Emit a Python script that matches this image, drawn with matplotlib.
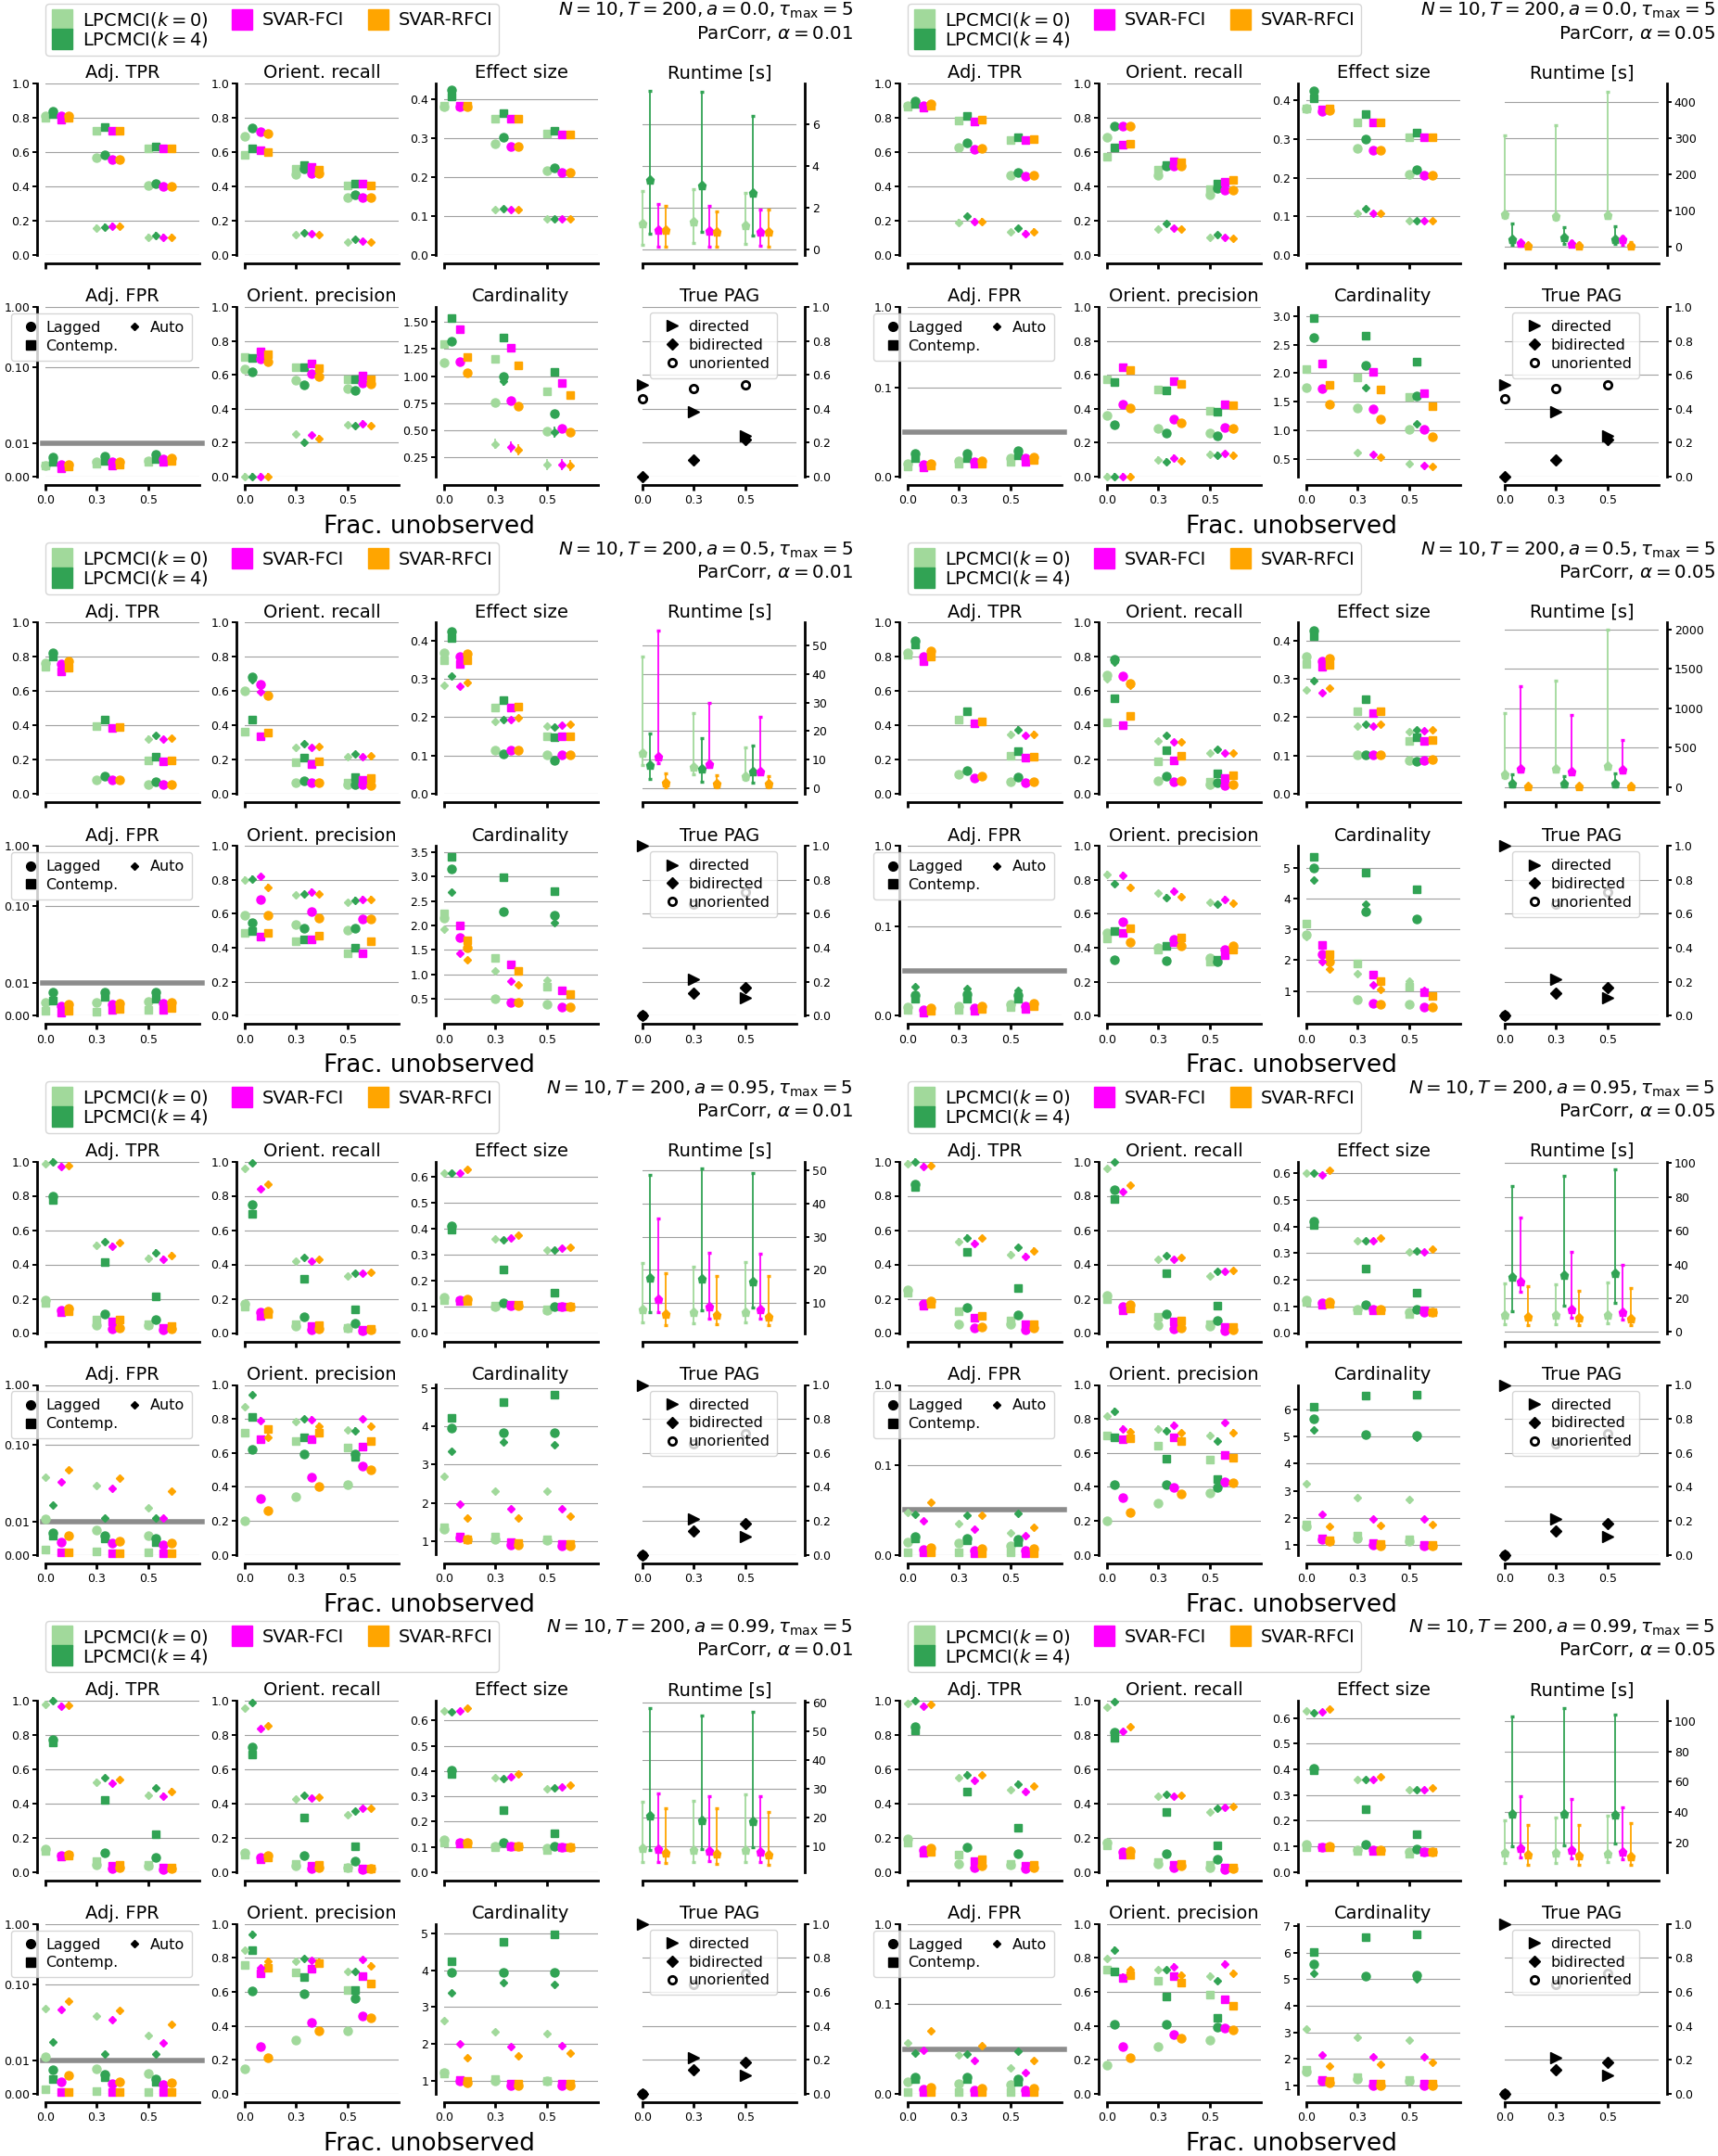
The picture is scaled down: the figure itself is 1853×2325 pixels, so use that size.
import numpy as np
import matplotlib.pyplot as plt
from matplotlib.lines import Line2D

nan = np.nan

frac_labels = ['0.0', '0.3', '0.5']
a_values = ['0.0', '0.5', '0.95', '0.99']
alpha_values = ['0.01', '0.05']
methods = [r'LPCMCI($k=0$)', r'LPCMCI($k=4$)', 'SVAR-FCI', 'SVAR-RFCI']
colors = ['#a1d99b', '#31a354', '#ff00ff', '#ffa500']

# panel order: (a=0.0, alpha=0.01), (a=0.0, alpha=0.05), (a=0.5, 0.01), (a=0.5, 0.05),
#              (a=0.95, 0.01), (a=0.95, 0.05), (a=0.99, 0.01), (a=0.99, 0.05)
# inside a panel: [LPCMCI k=0, LPCMCI k=4, SVAR-FCI, SVAR-RFCI], each over frac 0.0, 0.3, 0.5

# Adj. TPR
tpr_lag = [
    [[0.81, 0.568, 0.405], [0.84, 0.586, 0.414], [0.81, 0.559, 0.40], [0.81, 0.559, 0.40]],
    [[0.87, 0.628, 0.467], [0.895, 0.652, 0.481], [0.87, 0.618, 0.457], [0.88, 0.624, 0.463]],
    [[0.764, 0.084, 0.058], [0.824, 0.104, 0.07], [0.758, 0.084, 0.054], [0.774, 0.084, 0.054]],
    [[0.824, 0.114, 0.074], [0.894, 0.134, 0.098], [0.804, 0.094, 0.064], [0.834, 0.104, 0.07]],
    [[0.19, 0.044, 0.044], [0.797, 0.113, 0.078], [0.133, 0.022, 0.018], [0.145, 0.028, 0.022]],
    [[0.25, 0.054, 0.054], [0.869, 0.147, 0.106], [0.171, 0.03, 0.02], [0.187, 0.034, 0.03]],
    [[0.134, 0.044, 0.034], [0.774, 0.114, 0.084], [0.098, 0.02, 0.014], [0.104, 0.028, 0.022]],
    [[0.194, 0.048, 0.044], [0.848, 0.144, 0.108], [0.128, 0.024, 0.02], [0.138, 0.034, 0.028]],
]
tpr_con = [
    [[0.80, 0.726, 0.622], [0.82, 0.744, 0.63], [0.79, 0.726, 0.622], [0.80, 0.726, 0.622]],
    [[0.865, 0.785, 0.672], [0.88, 0.81, 0.684], [0.86, 0.779, 0.672], [0.87, 0.789, 0.676]],
    [[0.744, 0.394, 0.194], [0.804, 0.434, 0.22], [0.714, 0.384, 0.19], [0.734, 0.39, 0.194]],
    [[0.814, 0.434, 0.224], [0.874, 0.484, 0.25], [0.774, 0.41, 0.21], [0.804, 0.424, 0.22]],
    [[0.175, 0.078, 0.052], [0.777, 0.414, 0.215], [0.119, 0.068, 0.032], [0.129, 0.078, 0.038]],
    [[0.235, 0.127, 0.074], [0.849, 0.472, 0.261], [0.161, 0.09, 0.05], [0.171, 0.10, 0.05]],
    [[0.124, 0.064, 0.04], [0.754, 0.418, 0.218], [0.09, 0.034, 0.024], [0.094, 0.044, 0.028]],
    [[0.174, 0.10, 0.048], [0.828, 0.468, 0.26], [0.114, 0.064, 0.034], [0.12, 0.074, 0.04]],
]
tpr_auto = [
    [[nan, 0.157, 0.103], [nan, 0.162, 0.114], [nan, 0.168, 0.103], [nan, 0.168, 0.103]],
    [[nan, 0.19, 0.133], [nan, 0.225, 0.155], [nan, 0.195, 0.125], [nan, 0.195, 0.135]],
    [[nan, nan, 0.32], [nan, nan, 0.34], [nan, nan, 0.318], [nan, nan, 0.324]],
    [[nan, nan, 0.348], [nan, nan, 0.374], [nan, nan, 0.34], [nan, nan, 0.35]],
    [[0.988, 0.511, 0.435], [1.0, 0.531, 0.467], [0.97, 0.507, 0.431], [0.978, 0.525, 0.451]],
    [[0.988, 0.532, 0.456], [1.0, 0.556, 0.498], [0.97, 0.522, 0.448], [0.978, 0.552, 0.478]],
    [[0.978, 0.524, 0.448], [0.998, 0.548, 0.488], [0.968, 0.518, 0.444], [0.974, 0.538, 0.468]],
    [[0.98, 0.548, 0.478], [0.998, 0.568, 0.514], [0.968, 0.534, 0.468], [0.976, 0.564, 0.50]],
]

# Orient. recall
rec_lag = [
    [[0.69, 0.468, 0.337], [0.742, 0.505, 0.351], [0.72, 0.477, 0.337], [0.708, 0.477, 0.337]],
    [[0.684, 0.467, 0.35], [0.752, 0.517, 0.39], [0.752, 0.517, 0.376], [0.752, 0.517, 0.38]],
    [[0.60, 0.064, 0.054], [0.684, 0.078, 0.058], [0.638, 0.064, 0.054], [0.574, 0.064, 0.05]],
    [[0.694, 0.078, 0.058], [0.784, 0.104, 0.068], [0.69, 0.074, 0.05], [0.644, 0.078, 0.054]],
    [[0.169, 0.038, 0.032], [0.746, 0.093, 0.058], [0.119, 0.018, 0.012], [0.129, 0.022, 0.018]],
    [[0.22, 0.044, 0.04], [0.833, 0.11, 0.074], [0.155, 0.024, 0.014], [0.167, 0.03, 0.02]],
    [[0.114, 0.034, 0.024], [0.728, 0.094, 0.064], [0.084, 0.02, 0.014], [0.094, 0.028, 0.018]],
    [[0.174, 0.048, 0.028], [0.814, 0.108, 0.074], [0.118, 0.024, 0.014], [0.124, 0.034, 0.02]],
]
rec_con = [
    [[0.586, 0.505, 0.405], [0.622, 0.522, 0.414], [0.61, 0.514, 0.414], [0.60, 0.50, 0.405]],
    [[0.571, 0.497, 0.386], [0.628, 0.527, 0.416], [0.644, 0.547, 0.427], [0.648, 0.541, 0.437]],
    [[0.364, 0.184, 0.064], [0.434, 0.214, 0.098], [0.334, 0.174, 0.084], [0.358, 0.19, 0.094]],
    [[0.418, 0.19, 0.074], [0.558, 0.254, 0.118], [0.404, 0.198, 0.094], [0.454, 0.224, 0.11]],
    [[0.153, 0.052, 0.028], [0.696, 0.314, 0.139], [0.099, 0.038, 0.018], [0.109, 0.044, 0.022]],
    [[0.20, 0.094, 0.054], [0.783, 0.347, 0.161], [0.13, 0.07, 0.034], [0.141, 0.074, 0.034]],
    [[0.104, 0.048, 0.028], [0.684, 0.318, 0.148], [0.074, 0.034, 0.02], [0.084, 0.04, 0.02]],
    [[0.154, 0.06, 0.04], [0.784, 0.348, 0.158], [0.10, 0.04, 0.024], [0.104, 0.048, 0.028]],
]
rec_auto = [
    [[nan, 0.12, 0.077], [nan, 0.13, 0.09], [nan, 0.126, 0.081], [nan, 0.117, 0.077]],
    [[nan, 0.149, 0.105], [nan, 0.185, 0.119], [nan, 0.155, 0.105], [nan, 0.149, 0.10]],
    [[0.60, 0.274, 0.218], [0.665, 0.294, 0.234], [0.595, 0.274, 0.22], [0.575, 0.278, 0.224]],
    [[0.674, 0.31, 0.238], [0.77, 0.34, 0.26], [0.68, 0.304, 0.238], [0.635, 0.304, 0.24]],
    [[0.958, 0.421, 0.33], [0.994, 0.441, 0.346], [0.843, 0.421, 0.346], [0.867, 0.431, 0.354]],
    [[0.96, 0.432, 0.335], [0.998, 0.452, 0.361], [0.827, 0.428, 0.361], [0.863, 0.438, 0.365]],
    [[0.954, 0.428, 0.334], [0.99, 0.448, 0.354], [0.834, 0.43, 0.374], [0.854, 0.438, 0.37]],
    [[0.96, 0.44, 0.348], [0.994, 0.454, 0.374], [0.818, 0.444, 0.378], [0.848, 0.448, 0.384]],
]

# Effect size
eff_lag = [
    [[0.38, 0.285, 0.216], [0.423, 0.302, 0.224], [0.38, 0.278, 0.212], [0.38, 0.278, 0.212]],
    [[0.38, 0.277, 0.208], [0.424, 0.301, 0.22], [0.371, 0.272, 0.206], [0.375, 0.272, 0.206]],
    [[0.367, 0.113, 0.102], [0.423, 0.104, 0.088], [0.358, 0.115, 0.102], [0.365, 0.115, 0.102]],
    [[0.358, 0.102, 0.088], [0.425, 0.102, 0.085], [0.347, 0.102, 0.088], [0.354, 0.102, 0.089]],
    [[0.137, 0.10, 0.087], [0.411, 0.114, 0.10], [0.126, 0.104, 0.10], [0.129, 0.104, 0.10]],
    [[0.125, 0.09, 0.08], [0.42, 0.107, 0.09], [0.112, 0.09, 0.08], [0.116, 0.09, 0.08]],
    [[0.126, 0.103, 0.094], [0.404, 0.117, 0.103], [0.117, 0.103, 0.099], [0.117, 0.103, 0.099]],
    [[0.108, 0.084, 0.079], [0.405, 0.108, 0.091], [0.097, 0.084, 0.079], [0.10, 0.084, 0.079]],
]
eff_con = [
    [[0.383, 0.35, 0.312], [0.406, 0.364, 0.318], [0.382, 0.349, 0.31], [0.382, 0.349, 0.31]],
    [[0.38, 0.344, 0.304], [0.406, 0.364, 0.316], [0.377, 0.342, 0.304], [0.38, 0.344, 0.304]],
    [[0.349, 0.226, 0.151], [0.407, 0.245, 0.149], [0.34, 0.226, 0.151], [0.349, 0.227, 0.151]],
    [[0.34, 0.216, 0.138], [0.412, 0.247, 0.147], [0.332, 0.211, 0.138], [0.336, 0.216, 0.14]],
    [[0.126, 0.104, 0.091], [0.396, 0.245, 0.154], [0.121, 0.108, 0.10], [0.124, 0.108, 0.10]],
    [[0.116, 0.084, 0.073], [0.405, 0.244, 0.15], [0.107, 0.084, 0.084], [0.109, 0.084, 0.08]],
    [[0.117, 0.099, 0.089], [0.388, 0.245, 0.153], [0.114, 0.103, 0.099], [0.114, 0.103, 0.099]],
    [[0.097, 0.081, 0.071], [0.395, 0.244, 0.148], [0.095, 0.081, 0.079], [0.097, 0.081, 0.079]],
]
eff_auto = [
    [[nan, 0.116, 0.092], [nan, 0.118, 0.093], [nan, 0.116, 0.092], [nan, 0.116, 0.092]],
    [[nan, 0.108, 0.089], [nan, 0.119, 0.09], [nan, 0.108, 0.089], [nan, 0.108, 0.089]],
    [[0.283, 0.19, 0.176], [0.307, 0.193, 0.174], [0.281, 0.193, 0.18], [0.29, 0.198, 0.182]],
    [[0.271, 0.177, 0.162], [0.296, 0.183, 0.167], [0.263, 0.177, 0.165], [0.276, 0.182, 0.168]],
    [[0.611, 0.36, 0.318], [0.613, 0.357, 0.318], [0.614, 0.364, 0.324], [0.626, 0.374, 0.33]],
    [[0.60, 0.347, 0.306], [0.602, 0.347, 0.308], [0.595, 0.347, 0.306], [0.613, 0.357, 0.315]],
    [[0.638, 0.374, 0.331], [0.634, 0.371, 0.333], [0.638, 0.378, 0.336], [0.648, 0.388, 0.343]],
    [[0.628, 0.361, 0.319], [0.621, 0.361, 0.321], [0.624, 0.361, 0.319], [0.635, 0.372, 0.328]],
]

# Runtime [s]: mean, min, max
rt_mean = [
    [[1.25, 1.32, 1.17], [3.33, 3.08, 2.73], [0.92, 0.88, 0.82], [0.92, 0.82, 0.82]],
    [[88, 83, 87], [19, 26, 21], [9.4, 7.5, 19], [3, 3, 3]],
    [[12.4, 7.6, 4.2], [8.2, 6.7, 6.0], [10.9, 8.4, 6.0], [1.9, 1.7, 1.7]],
    [[161, 239, 274], [43, 43, 43], [230, 196, 222], [13, 13, 13]],
    [[7.9, 7.3, 7.3], [17.5, 17.3, 16.4], [11.2, 8.9, 7.9], [6.6, 6.4, 5.8]],
    [[10.2, 10.0, 10.2], [32.9, 33.9, 35.0], [29.9, 13.6, 12.0], [8.9, 8.5, 8.1]],
    [[9.5, 8.8, 8.8], [20.7, 19.3, 18.7], [9.2, 8.6, 8.2], [8.0, 7.6, 7.1]],
    [[13.2, 12.8, 12.6], [38.5, 38.7, 38.0], [16.2, 14.8, 13.7], [11.7, 11.0, 10.5]],
]
rt_min = [
    [[0.22, 0.33, 0.25], [0.77, 0.85, 0.65], [0.15, 0.15, 0.18], [0.15, 0.15, 0.13]],
    [[80, 75, 78], [5, 7.5, 5.7], [2, 2, 5], [0.5, 0.5, 0.5]],
    [[8, 5, 3], [3.4, 2.4, 1.9], [8.8, 7.6, 5.2], [0.4, 0.4, 0.4]],
    [[120, 200, 230], [13, 13, 13], [200, 170, 190], [2, 2, 2]],
    [[4.0, 3.7, 4.2], [7.3, 7.8, 8.6], [7.3, 5.2, 5.2], [3.2, 3.5, 3.2]],
    [[4.5, 4.5, 4.9], [12.2, 15.7, 17.1], [23.8, 8.5, 7.5], [4.1, 3.9, 4.1]],
    [[4.8, 4.7, 4.8], [8.8, 9.2, 9.8], [4.8, 5.0, 4.8], [4.2, 4.1, 3.8]],
    [[6.5, 6.5, 6.9], [17.1, 18.2, 19.5], [9.9, 9.2, 8.7], [5.4, 5.4, 5.4]],
]
rt_max = [
    [[2.82, 2.9, 2.7], [7.6, 7.58, 6.42], [2.18, 2.11, 1.89], [2.11, 1.84, 1.89]],
    [[307, 335, 429], [64, 52, 57], [15, 14, 28], [8, 9, 11]],
    [[46, 26.2, 14.4], [19, 17.5, 14.8], [55.3, 30, 25], [5.2, 4.6, 4.2]],
    [[943, 1348, 1991], [161, 139, 174], [1274, 913, 596], [39, 39, 39]],
    [[22, 20.8, 22.2], [48.7, 50.7, 49.4], [35.4, 25.1, 24.8], [19, 18, 18.2]],
    [[28.9, 28.5, 29.3], [86.2, 92.3, 96.3], [67.9, 47.6, 40], [27.2, 24.4, 25.8]],
    [[25.6, 25.8, 28.2], [58.2, 55.5, 56.7], [28.5, 27.6, 27.6], [23.2, 23.2, 22.2]],
    [[34.6, 36.4, 37.3], [102.9, 108.5, 104], [50.4, 48.6, 43], [31.3, 31.3, 32.4]],
]

# Adj. FPR
fpr_lag = [
    [[0.0035, 0.0044, 0.0049], [0.0058, 0.0063, 0.0067], [0.0037, 0.0044, 0.0053], [0.0037, 0.0044, 0.0056]],
    [[0.015, 0.018, 0.021], [0.026, 0.026, 0.0286], [0.0134, 0.017, 0.021], [0.015, 0.018, 0.022]],
    [[0.004, 0.004, 0.0043], [0.007, 0.007, 0.007], [0.003, 0.0035, 0.0037], [0.0035, 0.0037, 0.004]],
    [[0.0095, 0.011, 0.013], [0.023, 0.024, 0.023], [0.0065, 0.0087, 0.011], [0.0087, 0.011, 0.014]],
    [[0.0132, 0.0073, 0.0058], [0.0067, 0.0057, 0.005], [0.0039, 0.0034, 0.0029], [0.0058, 0.0041, 0.0034]],
    [[0.0144, 0.0125, 0.0095], [0.020, 0.018, 0.017], [0.0057, 0.005, 0.005], [0.0076, 0.0068, 0.0068]],
    [[0.014, 0.0075, 0.0062], [0.0072, 0.0058, 0.0044], [0.0037, 0.0031, 0.0027], [0.0055, 0.0037, 0.0032]],
    [[0.0137, 0.0107, 0.0099], [0.0183, 0.0183, 0.0164], [0.005, 0.0038, 0.0038], [0.0069, 0.0061, 0.0061]],
]
fpr_con = [
    [[0.0033, 0.0039, 0.0044], [0.0044, 0.0049, 0.0053], [0.0025, 0.0035, 0.0044], [0.003, 0.0037, 0.0047]],
    [[0.0115, 0.015, 0.017], [0.021, 0.021, 0.024], [0.0107, 0.0145, 0.017], [0.012, 0.015, 0.019]],
    [[0.0015, 0.0013, 0.0017], [0.0045, 0.0056, 0.005], [0.001, 0.0017, 0.0017], [0.0015, 0.002, 0.0023]],
    [[0.0065, 0.0065, 0.0095], [0.019, 0.019, 0.019], [0.0038, 0.0057, 0.0076], [0.0057, 0.0076, 0.0103]],
    [[0.0015, 0.001, 0.0008], [0.0057, 0.005, 0.0039], [0.0008, 0.0005, 0.0005], [0.0008, 0.0005, 0.0005]],
    [[0.003, 0.003, 0.003], [0.018, 0.016, 0.0144], [0.003, 0.002, 0.002], [0.003, 0.002, 0.002]],
    [[0.0014, 0.0009, 0.0004], [0.0044, 0.0051, 0.0037], [0.0006, 0.0004, 0.0004], [0.0006, 0.0004, 0.0004]],
    [[0.002, 0.002, 0.0015], [0.0164, 0.0164, 0.0137], [0.002, 0.0015, 0.0015], [0.002, 0.0015, 0.0015]],
]
fpr_auto = [
    [[nan, nan, nan], [nan, nan, nan], [nan, nan, nan], [nan, nan, nan]],
    [[nan, nan, nan], [nan, nan, nan], [nan, nan, nan], [nan, nan, nan]],
    [[nan, nan, nan], [nan, nan, nan], [nan, nan, nan], [nan, nan, nan]],
    [[nan, nan, nan], [0.032, 0.03, 0.0285], [nan, nan, nan], [nan, nan, nan]],
    [[0.0626, 0.0526, 0.0265], [0.029, 0.0144, 0.0144], [0.0566, 0.0486, 0.0144], [0.0715, 0.0614, 0.0454]],
    [[0.0475, 0.0346, 0.0247], [0.045, 0.044, 0.046], [0.038, 0.0285, 0.021], [0.059, 0.044, 0.031]],
    [[0.0716, 0.0627, 0.040], [0.0315, 0.018, 0.0173], [0.070, 0.0587, 0.0303], [0.080, 0.0688, 0.0526]],
    [[0.0565, 0.043, 0.029], [0.045, 0.0443, 0.047], [0.0489, 0.0374, 0.024], [0.070, 0.0534, 0.0366]],
]

# Orient. precision
prec_lag = [
    [[0.636, 0.567, 0.518], [0.616, 0.54, 0.507], [0.695, 0.604, 0.553], [0.676, 0.589, 0.545]],
    [[0.362, 0.286, 0.258], [0.306, 0.258, 0.241], [0.427, 0.338, 0.292], [0.406, 0.318, 0.282]],
    [[0.59, 0.535, 0.505], [0.55, 0.515, 0.515], [0.687, 0.611, 0.571], [0.59, 0.575, 0.571]],
    [[0.49, 0.40, 0.341], [0.331, 0.325, 0.321], [0.551, 0.451, 0.391], [0.435, 0.411, 0.411]],
    [[0.197, 0.343, 0.412], [0.618, 0.594, 0.592], [0.331, 0.458, 0.524], [0.257, 0.402, 0.502]],
    [[0.202, 0.306, 0.366], [0.41, 0.41, 0.396], [0.334, 0.396, 0.43], [0.25, 0.356, 0.426]],
    [[0.148, 0.313, 0.369], [0.603, 0.589, 0.563], [0.277, 0.419, 0.455], [0.214, 0.369, 0.449]],
    [[0.167, 0.277, 0.313], [0.408, 0.408, 0.394], [0.277, 0.347, 0.384], [0.213, 0.327, 0.378]],
]
prec_con = [
    [[0.704, 0.644, 0.573], [0.70, 0.644, 0.573], [0.74, 0.667, 0.595], [0.722, 0.64, 0.576]],
    [[0.573, 0.513, 0.386], [0.557, 0.507, 0.382], [0.644, 0.563, 0.427], [0.628, 0.547, 0.423]],
    [[0.49, 0.44, 0.37], [0.50, 0.447, 0.40], [0.465, 0.447, 0.37], [0.49, 0.47, 0.44]],
    [[0.455, 0.39, 0.321], [0.50, 0.411, 0.331], [0.487, 0.431, 0.355], [0.515, 0.461, 0.39]],
    [[0.719, 0.669, 0.629], [0.809, 0.689, 0.578], [0.679, 0.679, 0.639], [0.739, 0.719, 0.669]],
    [[0.702, 0.642, 0.562], [0.692, 0.566, 0.446], [0.68, 0.69, 0.586], [0.686, 0.67, 0.57]],
    [[0.76, 0.715, 0.609], [0.844, 0.689, 0.613], [0.71, 0.739, 0.695], [0.743, 0.77, 0.649]],
    [[0.729, 0.665, 0.582], [0.719, 0.574, 0.448], [0.679, 0.695, 0.558], [0.699, 0.655, 0.518]],
]
prec_auto = [
    [[0.0, 0.249, 0.304], [0.0, 0.204, 0.298], [0.0, 0.244, 0.313], [0.0, 0.225, 0.298]],
    [[0.0, 0.10, 0.131], [0.0, 0.09, 0.125], [0.0, 0.11, 0.135], [0.0, 0.095, 0.125]],
    [[0.80, 0.71, 0.667], [0.805, 0.715, 0.68], [0.82, 0.73, 0.687], [0.755, 0.715, 0.687]],
    [[0.832, 0.721, 0.667], [0.78, 0.697, 0.655], [0.828, 0.735, 0.685], [0.755, 0.70, 0.665]],
    [[0.87, 0.783, 0.733], [0.94, 0.799, 0.729], [0.789, 0.795, 0.799], [0.693, 0.759, 0.759]],
    [[0.816, 0.742, 0.702], [0.846, 0.73, 0.67], [0.742, 0.762, 0.776], [0.726, 0.716, 0.72]],
    [[0.844, 0.78, 0.719], [0.94, 0.794, 0.719], [0.74, 0.784, 0.79], [0.78, 0.776, 0.753]],
    [[0.795, 0.729, 0.693], [0.845, 0.729, 0.663], [0.689, 0.749, 0.765], [0.729, 0.699, 0.709]],
]

# Cardinality
card_lag = [
    [[1.127, 0.759, 0.49], [1.322, 0.997, 0.652], [1.132, 0.773, 0.519], [1.033, 0.722, 0.482]],
    [[1.747, 1.39, 1.02], [2.63, 2.14, 1.6], [1.73, 1.37, 1.01], [1.46, 1.19, 0.89]],
    [[2.15, 0.50, 0.38], [3.15, 2.28, 2.2], [1.75, 0.43, 0.33], [1.54, 0.42, 0.33]],
    [[2.84, 0.71, 0.58], [5.0, 3.57, 3.33], [2.2, 0.61, 0.47], [1.96, 0.58, 0.47]],
    [[1.31, 1.03, 1.01], [3.96, 3.83, 3.84], [1.09, 0.89, 0.88], [1.03, 0.89, 0.88]],
    [[1.7, 1.25, 1.16], [5.65, 5.06, 5.03], [1.21, 1.0, 0.96], [1.13, 0.96, 0.96]],
    [[1.22, 1.0, 0.98], [3.96, 3.94, 3.96], [0.98, 0.86, 0.86], [0.94, 0.86, 0.86]],
    [[1.52, 1.22, 1.16], [5.56, 5.12, 5.17], [1.15, 1.0, 1.0], [1.09, 1.0, 1.0]],
]
card_con = [
    [[1.294, 1.16, 0.858], [1.537, 1.359, 1.042], [1.435, 1.265, 0.934], [1.175, 1.098, 0.827]],
    [[2.066, 1.92, 1.58], [2.96, 2.66, 2.21], [2.17, 2.02, 1.65], [1.79, 1.72, 1.43]],
    [[2.25, 1.33, 0.74], [3.41, 2.99, 2.70], [2.0, 1.21, 0.67], [1.70, 1.06, 0.60]],
    [[3.2, 1.9, 1.13], [5.36, 4.84, 4.29], [2.5, 1.52, 0.97], [2.18, 1.33, 0.84]],
    [[1.36, 1.12, 1.03], [4.23, 4.65, 4.83], [1.12, 0.96, 0.92], [1.05, 0.94, 0.92]],
    [[1.75, 1.34, 1.21], [6.09, 6.5, 6.54], [1.25, 1.06, 1.0], [1.19, 1.04, 1.0]],
    [[1.2, 1.05, 1.0], [4.25, 4.79, 4.99], [1.02, 0.91, 0.91], [0.98, 0.91, 0.91]],
    [[1.57, 1.29, 1.19], [6.04, 6.59, 6.68], [1.19, 1.06, 1.04], [1.15, 1.04, 1.04]],
]
card_auto = [
    [[nan, 0.374, 0.182], [nan, 0.957, 0.482], [nan, 0.346, 0.182], [nan, 0.318, 0.171]],
    [[nan, 0.61, 0.41], [nan, 1.74, 1.11], [nan, 0.58, 0.39], [nan, 0.53, 0.37]],
    [[1.93, 1.07, 0.87], [2.68, nan, 2.06], [1.42, 0.85, nan], [1.30, 0.79, nan]],
    [[2.78, 1.55, 1.32], [4.59, 3.82, nan], [1.96, 1.19, 1.02], [1.70, 1.04, nan]],
    [[2.7, 2.3, 2.3], [3.34, 3.59, 3.52], [1.96, 1.84, 1.84], [1.6, 1.6, 1.65]],
    [[3.25, 2.75, 2.69], [5.25, nan, 4.96], [2.13, 1.96, 1.96], [1.69, 1.71, 1.75]],
    [[2.62, 2.34, 2.29], [3.38, 3.68, 3.61], [2.0, 1.93, 1.94], [1.62, 1.68, 1.74]],
    [[3.13, 2.82, 2.7], [5.21, nan, 5.0], [2.15, 2.06, 2.08], [1.73, 1.80, 1.85]],
]

# True PAG fractions, one row per value of a
pag_directed = [[0.54, 0.38, 0.24], [1.0, 0.214, 0.106], [1.0, 0.21, 0.106], [1.0, 0.212, 0.106]]
pag_bidirected = [[0.0, 0.10, 0.22], [0.0, 0.13, 0.164], [0.0, 0.137, 0.183], [0.0, 0.142, 0.184]]
pag_unoriented = [[0.46, 0.52, 0.54], [0.0, 0.656, 0.73], [0.0, 0.653, 0.711], [0.0, 0.646, 0.71]]

# axis ranges
eff_top = [0.44, 0.444, 0.447, 0.447, 0.657, 0.645, 0.679, 0.668]
card_lim = [(0.07, 1.64), (0.19, 3.16), (0.15, 3.63), (0.2, 5.71),
            (0.64, 5.09), (0.65, 6.9), (0.64, 5.27), (0.68, 7.09)]
card_ticks = [[0.25, 0.5, 0.75, 1.0, 1.25, 1.5], [0.5, 1.0, 1.5, 2.0, 2.5, 3.0],
              [0.5, 1.0, 1.5, 2.0, 2.5, 3.0, 3.5], [1, 2, 3, 4, 5], [1, 2, 3, 4, 5],
              [1, 2, 3, 4, 5, 6], [1, 2, 3, 4, 5], [1, 2, 3, 4, 5, 6, 7]]
rt_lim = [(-0.27, 7.96), (-24, 452), (-2, 58), (-87, 2087),
          (0.85, 52.8), (-0.6, 101), (1.2, 60.8), (0.4, 113.5)]
rt_ticks = [[0, 2, 4, 6], [0, 100, 200, 300, 400], [0, 10, 20, 30, 40, 50],
            [0, 500, 1000, 1500, 2000], [10, 20, 30, 40, 50], [0, 20, 40, 60, 80, 100],
            [10, 20, 30, 40, 50, 60], [20, 40, 60, 80, 100]]

# error bar half-widths of the auto markers
tpr_err, rec_err, eff_err, prec_err, card_err = 0.02, 0.015, 0.006, 0.02, 0.05

W, H = 1853, 2325
fig = plt.figure(figsize=(W / 100, H / 100), dpi=100)

col_x = [49, 264, 479, 693]
ax_w = 166
row_box = [(90, 185), (331, 183)]
xpos = np.arange(3)
shift = 0.15
title_fs = 14
tick_fs = 9


def add_ax(x, y, w, h):
    return fig.add_axes([x / W, 1 - (y + h) / H, w / W, h / H])


def style(ax, right=False, xlabels=False):
    ax.set_xlim(0, 3)
    ax.spines['top'].set_visible(False)
    ax.spines['left' if right else 'right'].set_visible(False)
    for s in ['right' if right else 'left', 'bottom']:
        ax.spines[s].set_position(('outward', 6.5))
        ax.spines[s].set_linewidth(2.0)
    if right:
        ax.yaxis.tick_right()
    ax.set_xticks(xpos)
    ax.set_xticklabels(frac_labels)
    ax.tick_params(axis='x', length=4.5, width=2.0, labelsize=tick_fs, pad=3, labelbottom=xlabels)
    ax.tick_params(axis='y', length=3.5, width=1.4, labelsize=tick_fs, pad=2)
    ax.yaxis.grid(True, color='#a0a0a0', lw=0.8)
    ax.set_axisbelow(True)


def points(ax, lag, con, auto, err):
    for m in range(4):
        xs = xpos + m * shift
        c = colors[m]
        ax.plot(xs, con[m], 's', color=c, ms=6.3, ls='none', clip_on=False, zorder=3)
        ax.plot(xs, lag[m], 'o', color=c, ms=6.5, ls='none', clip_on=False, zorder=3)
        ax.errorbar(xs, auto[m], yerr=err, fmt='D', color=c, ms=3.6, elinewidth=1.2,
                    capsize=0, clip_on=False, zorder=4)


def fpr_scale(alpha):
    if alpha == '0.01':
        v, f = [0, 0.01, 0.1, 1], [0, 0.195, 0.645, 1]
    else:
        v, f = [0, 0.1, 1], [0, 0.527, 1]
    return (lambda y: np.interp(y, v, f)), (lambda y: np.interp(y, f, v))


for p in range(8):
    r, c = p // 2, p % 2
    dx, dy = c * 930, r * 581.25
    alpha = alpha_values[c]

    # legend of methods and panel title
    handles = [Line2D([], [], marker='s', ms=16, ls='none', color=col) for col in colors]
    fig.legend(handles, methods, loc='upper left', bbox_to_anchor=((49 + dx) / W, 1 - (4 + dy) / H),
               ncol=3, fontsize=14, labelspacing=0.0, handlelength=1.2, handletextpad=0.5,
               columnspacing=1.3, borderpad=0.35, borderaxespad=0)
    fig.text((920 + dx) / W, 1 - (1 + dy) / H,
             r'$N = 10, T = 200, a = %s, \tau_{\max} = 5$' % a_values[r] + '\n' + r'ParCorr, $\alpha = %s$' % alpha,
             ha='right', va='top', fontsize=14.3, linespacing=1.2)
    fig.text((463 + dx) / W, 1 - (568 + dy) / H, 'Frac. unobserved', ha='center', va='center', fontsize=19)

    ax_top = [add_ax(col_x[k] + dx, row_box[0][0] + dy, ax_w, row_box[0][1]) for k in range(4)]
    ax_bot = [add_ax(col_x[k] + dx, row_box[1][0] + dy, ax_w, row_box[1][1]) for k in range(4)]

    # Adj. TPR
    ax = ax_top[0]
    style(ax)
    points(ax, tpr_lag[p], tpr_con[p], tpr_auto[p], tpr_err)
    ax.set_ylim(0, 1)
    ax.set_yticks(np.arange(0, 1.01, 0.2))
    ax.set_title('Adj. TPR', fontsize=title_fs, pad=4)

    # Orient. recall
    ax = ax_top[1]
    style(ax)
    points(ax, rec_lag[p], rec_con[p], rec_auto[p], rec_err)
    ax.set_ylim(0, 1)
    ax.set_yticks(np.arange(0, 1.01, 0.2))
    ax.set_title('Orient. recall', fontsize=title_fs, pad=4)

    # Effect size
    ax = ax_top[2]
    style(ax)
    points(ax, eff_lag[p], eff_con[p], eff_auto[p], eff_err)
    ax.set_ylim(0, eff_top[p])
    ax.set_yticks(np.arange(0, eff_top[p], 0.1))
    ax.set_title('Effect size', fontsize=title_fs, pad=4)

    # Runtime
    ax = ax_top[3]
    style(ax, right=True)
    for m in range(4):
        mean = np.array(rt_mean[p][m], float)
        lo = mean - np.array(rt_min[p][m], float)
        hi = np.array(rt_max[p][m], float) - mean
        ax.errorbar(xpos + m * shift, mean, yerr=[lo, hi], fmt='p', color=colors[m], ms=6.5,
                    elinewidth=1.3, capsize=1.6, capthick=2.4, clip_on=False, zorder=3)
    ax.set_ylim(*rt_lim[p])
    ax.set_yticks(rt_ticks[p])
    ax.set_title('Runtime [s]', fontsize=title_fs, pad=4)

    # Adj. FPR
    ax = ax_bot[0]
    ax.set_yscale('function', functions=fpr_scale(alpha))
    style(ax, xlabels=True)
    ax.plot([-0.05, 3.05], [float(alpha)] * 2, color='#8c8c8c', lw=4, clip_on=False, zorder=2)
    points(ax, fpr_lag[p], fpr_con[p], fpr_auto[p], 0)
    ax.set_ylim(0, 1)
    if alpha == '0.01':
        ax.set_yticks([0, 0.01, 0.1, 1])
        ax.set_yticklabels(['0.00', '0.01', '0.10', '1.00'])
    else:
        ax.set_yticks([0, 0.1, 1])
        ax.set_yticklabels(['0.0', '0.1', '1.0'])
    ax.minorticks_off()
    ax.set_title('Adj. FPR', fontsize=title_fs, pad=4)
    kinds = [Line2D([], [], marker='o', ms=7, ls='none', color='k'),
             Line2D([], [], marker='s', ms=7, ls='none', color='k'),
             Line2D([], [], marker='D', ms=3.6, ls='none', color='k')]
    ax.legend(kinds, ['Lagged', 'Contemp.', 'Auto'], loc='upper left', bbox_to_anchor=(-0.223, 0.962),
              ncol=2, fontsize=11.5, labelspacing=0.3, handlelength=1.6, handletextpad=0.25,
              columnspacing=0.3, borderpad=0.5, borderaxespad=0)

    # Orient. precision
    ax = ax_bot[1]
    style(ax, xlabels=True)
    points(ax, prec_lag[p], prec_con[p], prec_auto[p], prec_err)
    ax.set_ylim(0, 1)
    ax.set_yticks(np.arange(0, 1.01, 0.2))
    ax.set_title('Orient. precision', fontsize=title_fs, pad=4)

    # Cardinality
    ax = ax_bot[2]
    style(ax, xlabels=True)
    points(ax, card_lag[p], card_con[p], card_auto[p], card_err)
    ax.set_ylim(*card_lim[p])
    ax.set_yticks(card_ticks[p])
    ax.set_title('Cardinality', fontsize=title_fs, pad=4)

    # True PAG
    ax = ax_bot[3]
    style(ax, right=True, xlabels=True)
    ax.plot(xpos, pag_unoriented[r], 'o', mfc='white', mec='k', mew=2, ms=6, ls='none',
            clip_on=False, zorder=3)
    ax.plot(xpos, pag_directed[r], '>', color='k', ms=8, ls='none', clip_on=False, zorder=3)
    ax.plot(xpos, pag_bidirected[r], 'D', color='k', ms=6.5, ls='none', clip_on=False, zorder=3)
    ax.set_ylim(0, 1)
    ax.set_yticks(np.arange(0, 1.01, 0.2))
    ax.set_title('True PAG', fontsize=title_fs, pad=4)
    pag_h = [Line2D([], [], marker='>', ms=8, ls='none', color='k'),
             Line2D([], [], marker='D', ms=6.5, ls='none', color='k'),
             Line2D([], [], marker='o', ms=6, ls='none', mfc='white', mec='k', mew=2)]
    ax.legend(pag_h, ['directed', 'bidirected', 'unoriented'], loc='upper left',
              bbox_to_anchor=(0.048, 0.967), fontsize=11.5, labelspacing=0.3, handlelength=2.0,
              handletextpad=0.1, borderpad=0.5, borderaxespad=0)

fig.savefig('out.png', dpi=100)
